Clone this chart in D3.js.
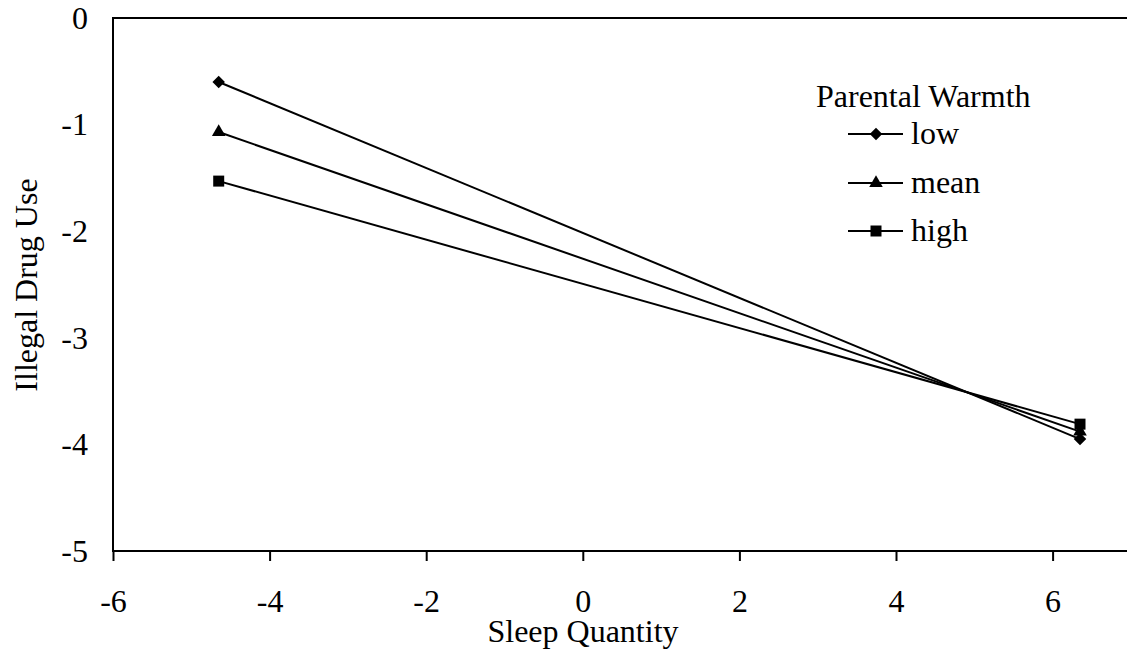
<!DOCTYPE html>
<html>
<head>
<meta charset="utf-8">
<script src="https://cdn.jsdelivr.net/npm/d3@7"></script>
<style>
  body { margin: 0; background: #fff; }
</style>
</head>
<body>
<script>
// data
var sleepX = [-4.65, 6.35];
var groups = ["low", "mean", "high"];
var lowY = [-0.6, -3.95];
var meanY = [-1.07, -3.88];
var highY = [-1.53, -3.81];
var xTicks = [-6, -4, -2, 0, 2, 4, 6];
var yTicks = [0, -1, -2, -3, -4, -5];

var series = [
  {name: groups[0], values: lowY, symbol: d3.symbolDiamond2, size: 100},
  {name: groups[1], values: meanY, symbol: d3.symbolTriangle, size: 80},
  {name: groups[2], values: highY, symbol: d3.symbolSquare, size: 121}
];

var width = 1127, height = 654;
var svg = d3.select("body").append("svg").attr("width", width).attr("height", height);

var x = d3.scaleLinear().domain([-6, 7]).range([113, 113 + 13 * 78.3]);
var y = d3.scaleLinear().domain([-5, 0]).range([551, 18]);

// frame (right side runs off the page)
svg.append("path")
  .attr("d", "M" + x(7) + "," + y(0) + "H" + x(-6) + "V" + y(-5) + "H" + x(7))
  .attr("fill", "none").attr("stroke", "#000").attr("stroke-width", 2);

// x axis
var xAxis = svg.append("g").attr("transform", "translate(0," + y(-5) + ")")
  .call(d3.axisBottom(x).tickValues(xTicks).tickSize(10).tickSizeOuter(0).tickPadding(28)
    .tickFormat(function(d) { return String(d); }));
xAxis.select(".domain").remove();
xAxis.selectAll("line").attr("stroke-width", 2);

// y axis labels only
var yAxis = svg.append("g").attr("transform", "translate(" + x(-6) + ",0)")
  .call(d3.axisLeft(y).tickValues(yTicks).tickSize(0).tickPadding(25)
    .tickFormat(function(d) { return String(d); }));
yAxis.select(".domain").remove();

svg.selectAll("g").attr("font-family", null).attr("font-size", null);

// axis titles
svg.append("text").attr("x", 583).attr("y", 642).attr("text-anchor", "middle")
  .text("Sleep Quantity");
svg.append("text").attr("transform", "translate(37,285) rotate(-90)").attr("text-anchor", "middle")
  .text("Illegal Drug Use");

var line = d3.line().x(function(d, i) { return x(sleepX[i]); }).y(function(d) { return y(d); });

series.forEach(function(s) {
  svg.append("path").datum(s.values).attr("d", line)
    .attr("fill", "none").attr("stroke", "#000").attr("stroke-width", 2);
  svg.selectAll(null).data(s.values).enter().append("path")
    .attr("d", d3.symbol().type(s.symbol).size(s.size))
    .attr("transform", function(d, i) { return "translate(" + x(sleepX[i]) + "," + y(d) + ")"; })
    .attr("fill", "#000");
});

// legend
var lg = svg.append("g");
lg.append("text").attr("x", 816).attr("y", 107).text("Parental Warmth");
var legY = [134, 183, 231];
series.forEach(function(s, i) {
  var row = lg.append("g").attr("transform", "translate(0," + legY[i] + ")");
  row.append("line").attr("x1", 848).attr("x2", 903).attr("stroke", "#000").attr("stroke-width", 2);
  row.append("path").attr("d", d3.symbol().type(s.symbol).size(s.size))
    .attr("transform", "translate(876,0)").attr("fill", "#000");
  row.append("text").attr("x", 911).attr("y", 10).text(s.name);
});

svg.selectAll("text")
  .style("font-family", "'Liberation Serif'")
  .style("font-size", "32px")
  .attr("fill", "#000");
</script>
</body>
</html>
